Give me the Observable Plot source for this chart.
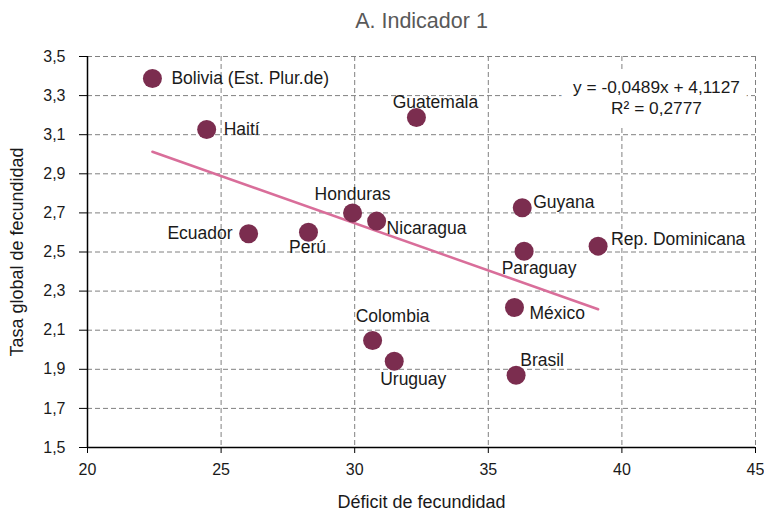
<!DOCTYPE html>
<html>
<head>
<meta charset="utf-8">
<script src="https://cdn.jsdelivr.net/npm/d3@7"></script>
<script src="https://cdn.jsdelivr.net/npm/@observablehq/plot@0.6"></script>
<style>
  html, body { margin: 0; padding: 0; background: #fff; }
</style>
</head>
<body>
<div id="chart"></div>
<script>
// ---- data ----
const countries = ["Bolivia (Est. Plur.de)", "Haití", "Guatemala", "Ecuador", "Perú", "Honduras", "Nicaragua", "Guyana", "Paraguay", "Rep. Dominicana", "México", "Colombia", "Uruguay", "Brasil"];
const deficit   = [22.43, 24.46, 32.31, 26.03, 28.27, 29.92, 30.82, 36.27, 36.34, 39.11, 35.98, 30.67, 31.48, 36.04];
const fecundidad = [3.387, 3.127, 3.188, 2.593, 2.601, 2.700, 2.658, 2.726, 2.504, 2.530, 2.216, 2.047, 1.941, 1.870];
const xTicks = [20, 25, 30, 35, 40, 45];
const yTicks = [1.5, 1.7, 1.9, 2.1, 2.3, 2.5, 2.7, 2.9, 3.1, 3.3, 3.5];
const titleText = "A. Indicador 1";
const xLabel = "Déficit de fecundidad";
const yLabel = "Tasa global de fecundidad";
const equationLines = ["y = -0,0489x + 4,1127", "R² = 0,2777"];

// ---- label placement (layout only) ----
const placement = {
  "Bolivia (Est. Plur.de)": {dx: 19, dy: 0, anchor: "start"},
  "Haití": {dx: 17, dy: 0, anchor: "start"},
  "Guatemala": {dx: 19, dy: -15, anchor: "middle"},
  "Ecuador": {dx: -16, dy: 0, anchor: "end"},
  "Perú": {dx: -1, dy: 15, anchor: "middle"},
  "Honduras": {dx: 0, dy: -19, anchor: "middle"},
  "Nicaragua": {dx: 10, dy: 7, anchor: "start"},
  "Guyana": {dx: 11, dy: -5, anchor: "start"},
  "Paraguay": {dx: 15, dy: 17, anchor: "middle"},
  "Rep. Dominicana": {dx: 13, dy: -7, anchor: "start"},
  "México": {dx: 15, dy: 6, anchor: "start"},
  "Colombia": {dx: 20, dy: -24, anchor: "middle"},
  "Uruguay": {dx: 19, dy: 18, anchor: "middle"},
  "Brasil": {dx: 26, dy: -15, anchor: "middle"}
};

const data = countries.map((c, i) => ({country: c, x: deficit[i], y: fecundidad[i]}));
const comma = d => d.toFixed(1).replace(".", ",");

const gridStyle = {stroke: "#808080", strokeOpacity: 1, strokeWidth: 1, strokeDasharray: "5,3"};

const labelMarks = ["start", "middle", "end"].flatMap(anchor =>
  data.filter(d => placement[d.country].anchor === anchor).map(d =>
    Plot.text([d], {
      x: "x", y: "y", text: "country",
      textAnchor: anchor,
      dx: placement[d.country].dx,
      dy: placement[d.country].dy,
      fontSize: 17.5,
      fill: "#1a1a1a"
    })
  )
);

const eqBase = {frameAnchor: "top-right", dx: -99, textAnchor: "middle", lineAnchor: "middle", fontSize: 17.3};
const eqHalo = {...eqBase, fill: "#fff", stroke: "#fff", strokeWidth: 24, strokeLinejoin: "round"};
const eqText = {...eqBase, fill: "#1a1a1a"};

const chart = Plot.plot({
  width: 764,
  height: 513,
  marginLeft: 87,
  marginRight: 9,
  marginTop: 56,
  marginBottom: 66,
  style: {fontFamily: "'Liberation Sans', Arial, sans-serif", fontSize: "16px", background: "#fff", color: "#1a1a1a"},
  x: {domain: [20, 45]},
  y: {domain: [1.5, 3.5]},
  marks: [
    Plot.gridX(xTicks.filter(d => d > 20), gridStyle),
    Plot.gridY(yTicks.filter(d => d > 1.5), gridStyle),
    Plot.text([equationLines[0]], {...eqHalo, dy: 31}),
    Plot.text([equationLines[1]], {...eqHalo, dy: 52}),
    Plot.text([equationLines[0]], {...eqText, dy: 31}),
    Plot.text([equationLines[1]], {...eqText, dy: 52}),
    Plot.axisX({ticks: xTicks, tickSize: 6, tickPadding: 10, tickFormat: d => String(d), label: null, fontSize: 16, stroke: "#000"}),
    Plot.axisY({ticks: yTicks, tickSize: 8, tickPadding: 14, tickFormat: comma, label: null, fontSize: 16, stroke: "#000"}),
    Plot.ruleX([20], {stroke: "#000", strokeWidth: 1.5}),
    Plot.ruleY([1.5], {stroke: "#000", strokeWidth: 1.5}),
    Plot.linearRegressionY(data, {x: "x", y: "y", ci: 0, stroke: "#D96E9A", strokeWidth: 2.5}),
    Plot.dot(data, {x: "x", y: "y", r: 9.5, fill: "#7B2D4F", stroke: null}),
    ...labelMarks,
    Plot.text([titleText], {frameAnchor: "top", dy: -35, lineAnchor: "middle", textAnchor: "middle", fontSize: 21.5, fill: "#595959"}),
    Plot.text([xLabel], {frameAnchor: "bottom", dy: 55, lineAnchor: "middle", textAnchor: "middle", fontSize: 18, fill: "#1a1a1a"}),
    Plot.text([yLabel], {frameAnchor: "left", dx: -70, rotate: -90, textAnchor: "middle", lineAnchor: "middle", fontSize: 18, fill: "#1a1a1a"})
  ]
});
document.getElementById("chart").appendChild(chart);
</script>
</body>
</html>
